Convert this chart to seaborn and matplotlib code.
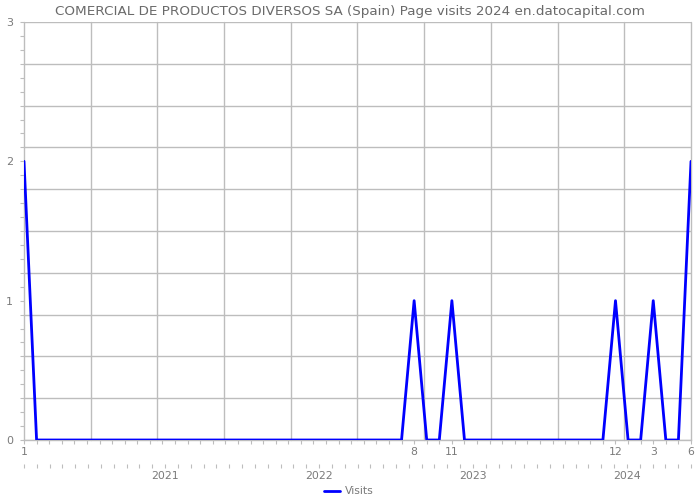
import numpy as np
import pandas as pd
import matplotlib
matplotlib.use("Agg")
import matplotlib.pyplot as plt
import seaborn as sns

# ---- data (monthly page visits, Jan 2020 .. Jun 2024) ----
month_index = list(range(54))
visits = [2] + [0] * 30 + [1, 0, 0, 1] + [0] * 12 + [1, 0, 0, 1, 0, 0, 2]
month_tick_pos = [0, 31, 34, 47, 50, 53]
month_tick_labels = ["1", "8", "11", "12", "3", "6"]
year_tick_pos = [11, 23, 35, 47]
year_tick_labels = ["2021", "2022", "2023", "2024"]
series_name = "Visits"
title = "COMERCIAL DE PRODUCTOS DIVERSOS SA (Spain) Page visits 2024 en.datocapital.com"

df = pd.DataFrame({"month": month_index, "value": visits, "series": series_name})

sns.set_theme(style="white")
plt.rcParams["font.family"] = ["DejaVu Sans"]

TXT = "#7a7a7a"
GRID = "#bdbdbd"

fig = plt.figure(figsize=(7, 5), dpi=100)
ax = fig.add_axes([24 / 700, 60 / 500, 667 / 700, 418 / 500])

sns.lineplot(data=df, x="month", y="value", hue="series", palette=["#0000ff"],
             linewidth=2, ax=ax, zorder=5)

xmax = month_index[-1]
ax.set_xlim(0, xmax)
ax.set_ylim(0, 3)

# grid: 10 equal divisions each direction
for v in np.linspace(0, 3, 11):
    ax.axhline(v, color=GRID, lw=1, zorder=1)
for v in np.linspace(0, xmax, 11):
    ax.axvline(v, color=GRID, lw=1, zorder=1, clip_on=False)

for s in ["top", "right", "left"]:
    ax.spines[s].set_visible(False)
ax.spines["bottom"].set_color(GRID)
ax.spines["bottom"].set_linewidth(1)

# y axis
ax.set_yticks([0, 1, 2, 3])
ax.set_yticklabels(["0", "1", "2", "3"])
ax.set_yticks(np.arange(0, 3.01, 0.1), minor=True)
ax.tick_params(axis="y", which="both", length=3, width=0.8, color=GRID,
               direction="out", labelcolor=TXT, labelsize=8, pad=5, left=True)

# x axis (month row)
ax.set_xticks(month_tick_pos)
ax.set_xticklabels(month_tick_labels)
ax.set_xticks(month_index, minor=True)
ax.tick_params(axis="x", which="both", length=3, width=0.8, color=GRID,
               direction="out", labelcolor=TXT, labelsize=7.8, pad=2, bottom=True)
ax.set_xlabel("")
ax.set_ylabel("")

# second row (years)
ax2 = ax.twiny()
ax2.set_xlim(0, 52)
ax2.xaxis.set_ticks_position("bottom")
ax2.xaxis.set_label_position("bottom")
ax2.spines["bottom"].set_position(("outward", 17))
for s in ["top", "right", "left", "bottom"]:
    ax2.spines[s].set_visible(False)
ax2.set_xticks(year_tick_pos)
ax2.set_xticklabels(year_tick_labels)
ax2.set_xticks(range(53), minor=True)
ax2.tick_params(axis="x", which="both", length=3, width=0.8, color=GRID,
                direction="out", labelcolor=TXT, labelsize=7.8, pad=2,
                bottom=True, top=False)

fig.suptitle(title, x=0.5, y=0.99, fontsize=9.7, color="#6a6a6a")

leg = ax.legend(loc="lower center", bbox_to_anchor=(0.5 - 9 / 667, -0.158),
                frameon=False, fontsize=7.8, handlelength=1.5,
                handletextpad=0.4, labelcolor=TXT)

fig.savefig("out.png", dpi=100)
